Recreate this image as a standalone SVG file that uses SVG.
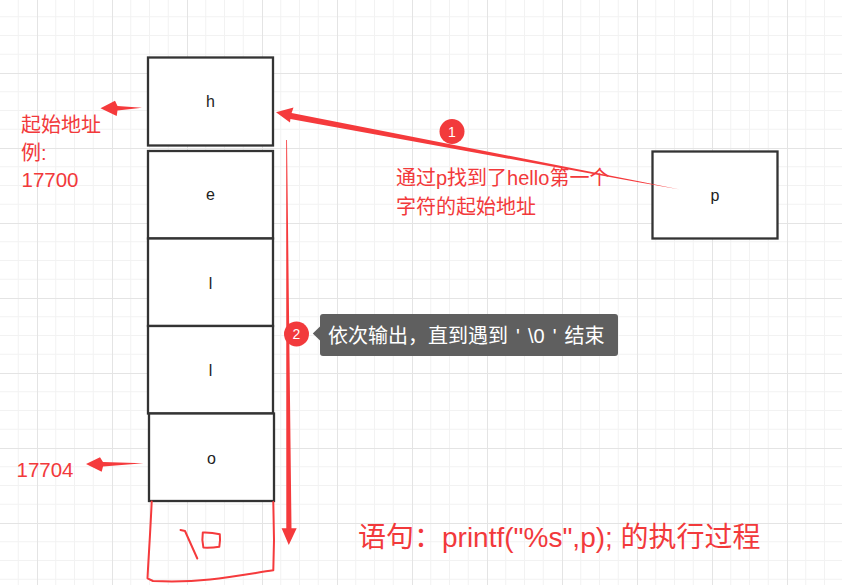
<svg xmlns="http://www.w3.org/2000/svg" width="842" height="585" viewBox="0 0 842 585">
<style>
.box{fill:#ffffff;stroke:#333333;stroke-width:2.3}
.lbl{font-family:"Liberation Sans","Noto Sans CJK SC",sans-serif;font-size:16px;fill:#222;text-anchor:middle}
.red{font-family:"Liberation Sans","Noto Sans CJK SC",sans-serif;fill:#f2393b}
.arrow{fill:#f53a3c}
.badge{fill:#f23a3c}
.bnum{font-family:"Liberation Sans",sans-serif;font-size:14px;fill:#fff;text-anchor:middle}
.hand{fill:none;stroke:#f53a3c;stroke-width:2;stroke-linecap:round;stroke-linejoin:round}
</style>
<defs>
<pattern id="grid" patternUnits="userSpaceOnUse" x="37" y="-2" width="75" height="75">
<path d="M18.75,0V75M37.5,0V75M56.25,0V75M0,18.75H75M0,37.5H75M0,56.25H75" stroke="#f2f2f2" stroke-width="1" fill="none"/>
<path d="M0.5,0V75M0,0.5H75" stroke="#e4e4e4" stroke-width="1" fill="none"/>
</pattern>
</defs>
<rect x="0" y="0" width="842" height="585" fill="#ffffff"/>
<rect x="0" y="0" width="842" height="585" fill="url(#grid)"/>

<g id="node-h"><rect class="box" x="148" y="57.5" width="125" height="88"/><text class="lbl" x="210.5" y="107">h</text></g>
<g id="node-e"><rect class="box" x="148" y="151" width="125" height="87.5"/><text class="lbl" x="210.5" y="200">e</text></g>
<g id="node-l1"><rect class="box" x="148" y="238.5" width="125" height="87.5"/><text class="lbl" x="210.5" y="288.5">l</text></g>
<g id="node-l2"><rect class="box" x="148" y="326" width="125" height="87.5"/><text class="lbl" x="210.5" y="375.5">l</text></g>
<g id="node-o"><rect class="box" x="149" y="413.5" width="125" height="87.5"/><text class="lbl" x="211.5" y="463.5">o</text></g>
<g id="node-p"><rect class="box" x="652.5" y="151.5" width="125" height="87"/><text class="lbl" x="715" y="200.5">p</text></g>

<g id="node-null">
<path class="hand" d="M151.7,501.5 C150.5,530 148.5,558 147.5,578.3 L153,581 C170,581.8 190,581.6 210,579.5 C232,577 252,573.5 273.3,570.3 L274,540 L273.3,502"/>
<path class="hand" d="M180.5,530 L185,531 L197.3,558.5"/>
<path class="hand" d="M202.8,532.5 C208.5,532.3 214.5,533 219.8,534.3 C220.4,538.5 220,542.5 219.3,546.8 C214,547.6 208.5,547.8 203.4,547.6 C202.3,542.5 202,537.5 202.8,532.5 Z"/>
</g>

<g id="connectors">
<polygon class="arrow" points="100.5,108.3 115,100.7 117.5,106 142,107.8 117.5,110.6 116.7,116"/>
<polygon class="arrow" points="86,464 100,457.3 103,462 143.5,463.3 103,466.6 101.7,471.7"/>
<polygon class="arrow" points="276,112.3 293.5,107.5 291.6,113.1 640.1,181.4 680,189.5 639.9,182.6 290.4,118.9 290,122.5"/>
<polygon class="arrow" points="286.2,140 287,140 291.5,528.3 296.7,528.3 288.8,545 281.6,528.3 286.3,528.3"/>
</g>

<g id="badge-1"><circle class="badge" cx="452" cy="131.5" r="12.5"/><text class="bnum" x="452" y="136.5">1</text></g>
<g id="badge-2"><circle class="badge" cx="296.5" cy="334" r="12.5"/><text class="bnum" x="296.5" y="339">2</text></g>

<g id="tooltip">
<rect x="320" y="314" width="298" height="42" rx="3" fill="#5f5f5f"/>
<polygon points="312.8,333.5 320,326.5 320,340.5" fill="#5f5f5f"/>
<text x="328" y="343" font-family="Liberation Sans,Noto Sans CJK SC,sans-serif" font-size="20" word-spacing="2.5" fill="#ffffff">依次输出，直到遇到 ' \0 ' 结束</text>
</g>

<g id="labels">
<text class="red" x="21" y="131.5" font-size="20">起始地址</text>
<text class="red" x="21" y="160" font-size="20">例:</text>
<text class="red" x="21.5" y="187.3" font-size="20.5">17700</text>
<text class="red" x="16.5" y="477" font-size="20.5">17704</text>
<text class="red" x="396" y="185" font-size="20">通过p找到了hello第一个</text>
<text class="red" x="396" y="214" font-size="20">字符的起始地址</text>
<text class="red" x="358" y="547" font-size="28">语句：printf("%s",p); 的执行过程</text>
</g>
</svg>
